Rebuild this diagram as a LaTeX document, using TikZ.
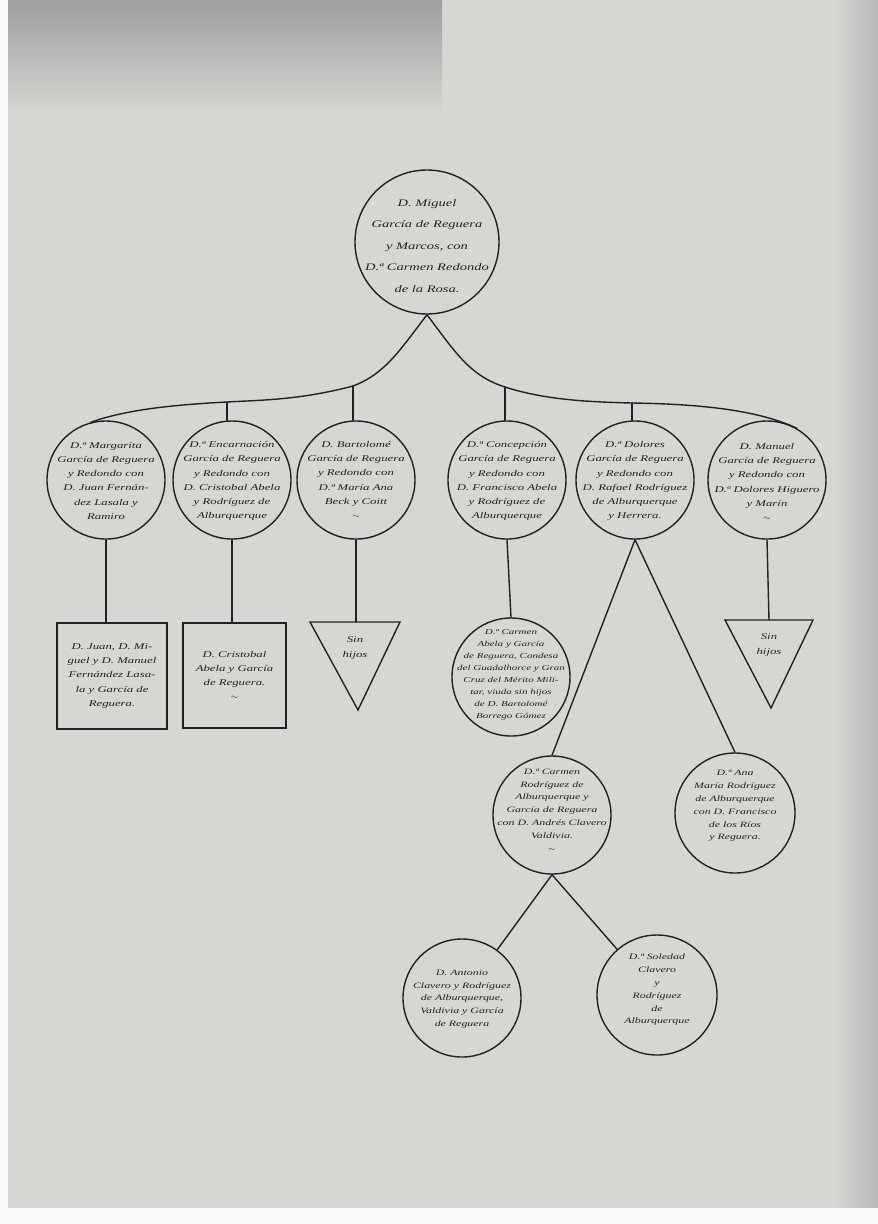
\documentclass[tikz,border=0pt]{standalone}
\usepackage{fontspec}
\newfontfamily\hand[FakeStretch=1.45]{Liberation Serif}
\definecolor{paper}{RGB}{214,214,210}
\definecolor{ink}{RGB}{34,34,34}
\begin{document}
\begin{tikzpicture}[x=1pt,y=-1pt,
  every node/.style={inner sep=0pt},
  link/.style={draw=ink,line width=1.4pt,line cap=round,line join=round},
  person/.style={circle,draw=ink,line width=1.4pt,minimum size=#1},
  person/.default=118pt,
  toptxt/.style={align=center,text=ink,font=\hand\itshape\fontsize{10}{21.5}\selectfont},
  txt/.style={align=center,text=ink,font=\hand\itshape\fontsize{8.8}{14.2}\selectfont},
  smalltxt/.style={align=center,text=ink,font=\hand\itshape\fontsize{7.6}{12}\selectfont},
  midtxt/.style={align=center,text=ink,font=\hand\itshape\fontsize{8.2}{12.8}\selectfont},
  boxed/.style={draw=ink,line width=1.4pt,rectangle,minimum width=#1},
  nokids/.style={draw=ink,line width=1.4pt,line join=miter}]
% paper
\useasboundingbox (0,0) rectangle (878,1224);
\fill[paper] (0,0) rectangle (878,1224);
\shade[left color=paper,right color=black!28] (835,0) rectangle (878,1224);
\shade[top color=black!38,bottom color=paper] (8,0) rectangle (442,115);
\fill[white!85!paper] (0,0) rectangle (8,1224);
\fill[white!85!paper] (0,1208) rectangle (878,1224);

% top couple
\node[person=144pt] (top) at (427,242) {};
\node[toptxt] (toptext) at (427,246) {D. Miguel\\García de Reguera\\y Marcos, con\\D.ª Carmen Redondo\\de la Rosa.};

% second generation
\node[person] (m1) at (106,480) {};
\node[person] (m2) at (232,480) {};
\node[person] (m3) at (356,480) {};
\node[person] (m4) at (507,480) {};
\node[person] (m5) at (635,480) {};
\node[person] (m6) at (767,480) {};
\node[txt] (m1t) at (106,481) {D.ª Margarita\\García de Reguera\\y Redondo con\\D. Juan Fernán-\\dez Lasala y\\Ramiro};
\node[txt] (m2t) at (232,481) {D.ª Encarnación\\García de Reguera\\y Redondo con\\D. Cristobal Abela\\y Rodríguez de\\Alburquerque};
\node[txt] (m3t) at (356,480) {D. Bartolomé\\García de Reguera\\y Redondo con\\D.ª María Ana\\Beck y Coitt\\$\sim$};
\node[txt] (m4t) at (507,481) {D.ª Concepción\\García de Reguera\\y Redondo con\\D. Francisco Abela\\y Rodríguez de\\Alburquerque};
\node[txt] (m5t) at (635,481) {D.ª Dolores\\García de Reguera\\y Redondo con\\D. Rafael Rodríguez\\de Alburquerque\\y Herrera.};
\node[txt] (m6t) at (767,482) {D. Manuel\\García de Reguera\\y Redondo con\\D.ª Dolores Higuero\\y Marín\\$\sim$};

% branching line
\coordinate (tL3) at (353,386);
\coordinate (tL2) at (227,402);
\coordinate (tR4) at (505,387);
\coordinate (tR5) at (632,403);
\draw[link] (top.south) .. controls (400,350) and (385,374) .. (tL3)
  .. controls (300,400) and (262,400) .. (tL2)
  .. controls (170,405) and (125,410) .. (m1.105);
\draw[link] (top.south) .. controls (455,352) and (470,376) .. (tR4)
  .. controls (545,400) and (590,402) .. (tR5)
  .. controls (700,404) and (758,410) .. (m6.60);
\draw[link] (tL2) -- (tL2 |- m2.north);
\draw[link] (tL3) -- (tL3 |- m3.north);
\draw[link] (tR4) -- (tR4 |- m4.north);
\draw[link] (tR5) -- (tR5 |- m5.north);

% third generation
\node[boxed=110pt,minimum height=106pt,txt] (b1) at (112,676) {D. Juan, D. Mi-\\guel y D. Manuel\\Fernández Lasa-\\la y García de\\Reguera.};
\node[boxed=103pt,minimum height=105pt,txt] (b2) at (234.5,675.5) {D. Cristobal\\Abela y García\\de Reguera.\\$\sim$};
\draw[link] (m1.south) -- (m1.south |- b1.north);
\draw[link] (m2.south) -- (m2.south |- b2.north);

\coordinate (tri1) at (356,622);
\draw[nokids] (310,622) -- (400,622) -- (358,710) -- cycle;
\node[txt] (tri1t) at (355,648) {Sin\\hijos};
\draw[link] (m3.south) -- (tri1);

\coordinate (tri2) at (769,620);
\draw[nokids] (725,620) -- (813,620) -- (771,708) -- cycle;
\node[txt] (tri2t) at (769,645) {Sin\\hijos};
\draw[link] (m6.south) -- (tri2);

\node[person] (ca) at (511,677) {};
\node[smalltxt] (cat) at (511,675) {D.ª Carmen\\Abela y García\\de Reguera, Condesa\\del Guadalhorce y Gran\\Cruz del Mérito Mili-\\tar, viuda sin hijos\\de D. Bartolomé\\Borrego Gómez};
\draw[link] (m4.south) -- (ca.north);

\node[person] (cr) at (552,815) {};
\node[midtxt] (crt) at (552,810) {D.ª Carmen\\Rodríguez de\\Alburquerque y\\García de Reguera\\con D. Andrés Clavero\\Valdivia.\\$\sim$};
\node[person=120pt] (am) at (735,813) {};
\node[midtxt] (amt) at (735,806) {D.ª Ana\\María Rodríguez\\de Alburquerque\\con D. Francisco\\de los Ríos\\y Reguera.};
\draw[link] (m5.south) -- (cr.north);
\draw[link] (m5.south) -- (am.north);

% fourth generation
\node[person] (an) at (462,998) {};
\node[midtxt] (ant) at (462,999) {D. Antonio\\Clavero y Rodríguez\\de Alburquerque,\\Valdivia y García\\de Reguera};
\node[person=120pt] (so) at (657,995) {};
\node[midtxt] (sot) at (657,990) {D.ª Soledad\\Clavero\\y\\Rodríguez\\de\\Alburquerque};
\draw[link] (cr.south) -- (an);
\draw[link] (cr.south) -- (so);
\end{tikzpicture}
\end{document}
